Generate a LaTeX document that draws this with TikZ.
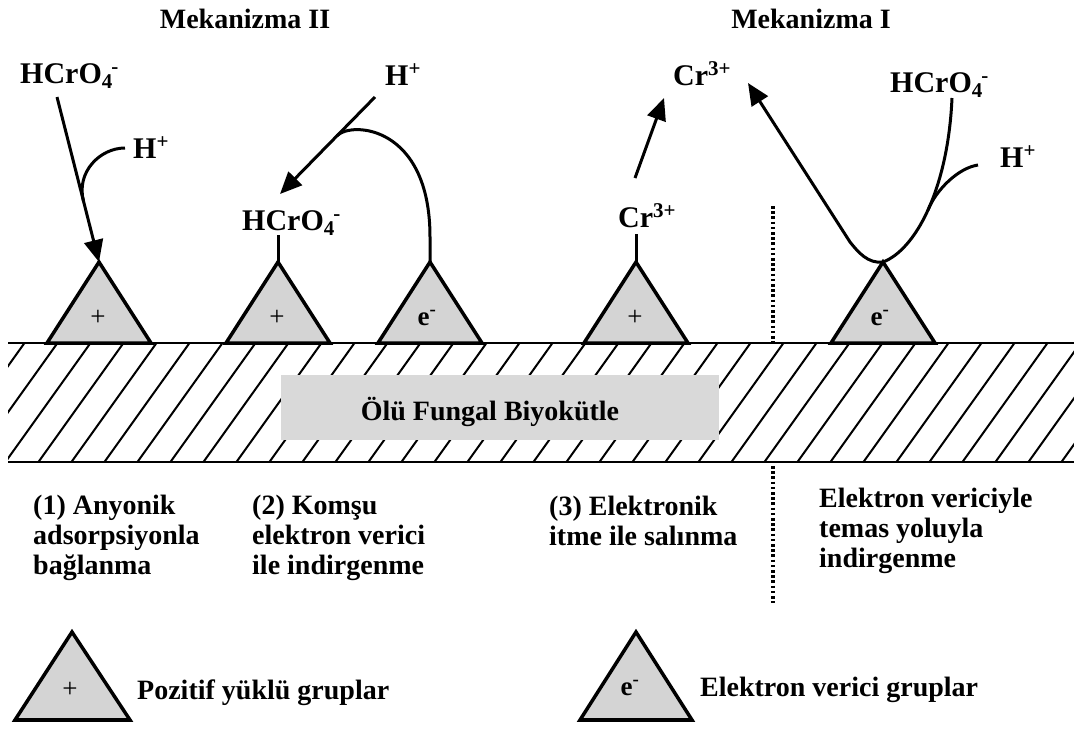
\documentclass[tikz,border=0pt]{standalone}
\usepackage{fontspec}
\setmainfont{Liberation Serif}
\usetikzlibrary{arrows.meta,calc}
\definecolor{tri}{gray}{0.83}
\definecolor{boxgray}{gray}{0.85}
\begin{document}
\begin{tikzpicture}[x=1pt,y=-1pt,
  lbl/.style={font=\fontsize{28}{30}\selectfont\bfseries, inner sep=0pt},
  chem/.style={font=\fontsize{30}{32}\selectfont\bfseries, inner sep=0pt, anchor=base west},
  desc/.style={font=\fontsize{28}{30}\selectfont\bfseries, inner sep=0pt, align=left, anchor=base west},
  sign/.style={font=\fontsize{27}{30}\selectfont, inner sep=0pt},
  esign/.style={font=\fontsize{27}{30}\selectfont\bfseries, inner sep=0pt},
  grp/.style={draw=black, line width=3.5pt, fill=tri},
  conn/.style={line width=3pt},
  arr/.style={conn, -{Triangle[length=22pt,width=19pt]}},
  surf/.style={line width=2.2pt},
  hatch/.style={line width=2pt},
  dotline/.style={line width=3.2pt, dash pattern=on 2.6pt off 2.6pt},
]
\useasboundingbox (0,0) rectangle (1074,729);

% biomass layer
\begin{scope}
  \clip (8,343) rectangle (1074,462);
  \foreach \i in {-3,...,34} \draw[hatch] (4+\i*33,464) -- ++(86.5,-121);
\end{scope}
\fill[boxgray] (281,375) rectangle (719,440);
\node[lbl, anchor=base] (bio) at (490,420) {Ölü Fungal Biyokütle};
\draw[surf] (8,343) -- (1074,343);
\draw[surf] (8,462) -- (1074,462);

% dotted separator
\draw[dotline] (773,206) -- (773,342);
\draw[dotline] (773,466) -- (773,603);

% titles
\node[lbl, anchor=base] (m2) at (245,28) {Mekanizma II};
\node[lbl, anchor=base] (m1) at (811,28) {Mekanizma I};

% functional groups on the surface
\foreach \n/\x in {1/99,2/278,3/430,4/636,5/883}{
  \draw[grp] (\x,262) -- (\x+52,343) -- (\x-52,343) -- cycle;
  \coordinate (a\n) at (\x,262);
}
\node[sign] (p1) at (98,318) {+};
\node[sign] (p2) at (277,318) {+};
\node[esign] (e3) at (427,318) {e\textsuperscript{-}};
\node[sign] (p4) at (635,318) {+};
\node[esign] (e5) at (880,318) {e\textsuperscript{-}};

% chemical species
\node[chem] (L1) at (20,83) {HCrO\textsubscript{4}\kern-0.05em\textsuperscript{-}};
\node[chem] (H1) at (133,158) {H\textsuperscript{+}};
\node[chem] (L2) at (242,230) {HCrO\textsubscript{4}\kern-0.05em\textsuperscript{-}};
\node[chem] (H2) at (385,85) {H\textsuperscript{+}};
\node[chem] (C1) at (618,227) {Cr\textsuperscript{3+}};
\node[chem] (C2) at (673,85) {Cr\textsuperscript{3+}};
\node[chem] (L3) at (890,92) {HCrO\textsubscript{4}\kern-0.05em\textsuperscript{-}};
\node[chem] (H3) at (1000,167) {H\textsuperscript{+}};

% mechanism (1)
\coordinate (s1) at ($(L1.base west)+(37,14)$);
\draw[arr] (s1) -- (a1);
\coordinate (j1) at ($(s1)!0.63!(a1)$);
\draw[conn] ($(H1.base west)+(-8,-10)$) .. controls (100,148) and (76,172) .. (j1);

% mechanism (2)
\draw[conn] (a2) -- ++(0,-27);
\coordinate (s2) at ($(H2.base west)+(-10,12)$);
\coordinate (t2) at ($(L2.base west)+(38,-36)$);
\draw[arr] (s2) -- (t2);
\coordinate (j2) at ($(s2)!0.4!(t2)$);
\draw[conn] (a3) -- ++(0,-25) .. controls (430,125) and (351,121) .. (j2);

% mechanism (3)
\draw[conn] (a4) -- ++(0,-28);
\coordinate (s4) at ($(C1.base west)+(17,-49)$);
\coordinate (t4) at ($(C2.base west)+(-9,13)$);
\draw[arr] (s4) -- (t4);

% mechanism I
\coordinate (s5) at ($(L3.base west)+(62,6)$);
\coordinate (t5) at ($(C2.base west)+(75,-2)$);
\draw[arr] (s5) .. controls (948,190) and (915,250) .. (a5)
  .. controls (868,264) and (858,252) .. (850,242) -- (t5);
\coordinate (j3) at (928,210);
\draw[conn] ($(H3.base west)+(-22,-2)$) .. controls (958,168) and (936,190) .. (j3);

% descriptions (base = last line)
\node[desc] (d1) at (33,574) {(1) Anyonik\\adsorpsiyonla\\bağlanma};
\node[desc] (d2) at (252,574) {(2) Komşu\\elektron verici\\ile indirgenme};
\node[desc] (d3) at (549,545) {(3) Elektronik\\itme ile salınma};
\node[desc] (d4) at (819,567) {Elektron vericiyle\\temas yoluyla\\indirgenme};

% legend
\draw[grp] (72,632) -- (130,720) -- (15,720) -- cycle;
\draw[line width=4.5pt] (15,720) -- (130,720);
\node[sign] (lp) at (70,690) {+};
\node[lbl, anchor=base west] (lt1) at (137,699) {Pozitif yüklü gruplar};
\draw[grp] (636,632) -- (692,720) -- (580,720) -- cycle;
\draw[line width=4.5pt] (580,720) -- (692,720);
\node[esign] (le) at (630,688) {e\textsuperscript{-}};
\node[lbl, anchor=base west] (lt2) at (700,696) {Elektron verici gruplar};
\end{tikzpicture}
\end{document}
